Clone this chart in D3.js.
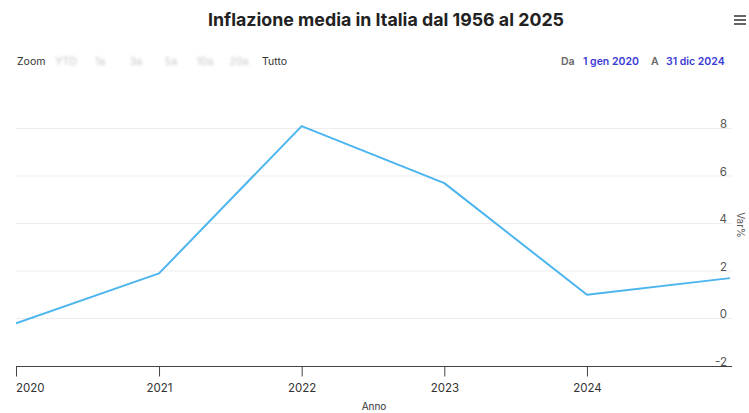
<!DOCTYPE html>
<html><head><meta charset="utf-8">
<script src="https://cdn.jsdelivr.net/npm/d3@7"></script>
<style>
body{margin:0;background:#fff;}
text{font-family:Inter,"Noto Sans",sans-serif;}
</style></head>
<body><svg id="c" width="749" height="413"></svg>
<script>
const years = ["2020-01-01","2021-01-01","2022-01-01","2023-01-01","2024-01-01","2025-01-01"];
const values = [-0.2, 1.9, 8.1, 5.7, 1.0, 1.7];
const yTicks = [-2, 0, 2, 4, 6, 8];
const xTickLabels = ["2020","2021","2022","2023","2024"];
const zoomButtons = ["YTD","1a","3a","5a","10a","20a"];
const title = "Inflazione media in Italia dal 1956 al 2025";

const svg = d3.select("#c");
const parse = d3.timeParse("%Y-%m-%d");
const data = years.map((d,i)=>({date:parse(d), v:values[i]}));

const x = d3.scaleTime().domain([parse("2020-01-01"), parse("2025-01-01")]).range([16, 730]);
const y = d3.scaleLinear().domain([-2, 8]).range([366, 128.5]);

const defs = svg.append("defs");
defs.append("filter").attr("id","blur").append("feGaussianBlur").attr("stdDeviation",1.6);
defs.append("clipPath").attr("id","clip").append("rect").attr("x",16).attr("y",90).attr("width",716).attr("height",280);

// title
svg.append("text").attr("x",386).attr("y",26).attr("text-anchor","middle")
  .attr("font-size",17.8).attr("font-weight",700).attr("fill","#222").text(title);
// menu icon
[0,4,8].forEach(o=>svg.append("rect").attr("x",734).attr("y",15+o).attr("width",12).attr("height",2).attr("fill","#666"));

// zoom row
const fs = 10.5;
svg.append("text").attr("x",17).attr("y",65).attr("font-size",fs).attr("fill","#333").text("Zoom");
const bx = [66, 100, 136, 171, 205, 239];
zoomButtons.forEach((b,i)=>svg.append("text").attr("x",bx[i]).attr("y",65).attr("text-anchor","middle")
  .attr("font-size",fs).attr("fill","#c4c4c4").attr("filter","url(#blur)").text(b));
svg.append("text").attr("x",262).attr("y",65).attr("font-size",fs).attr("fill","#333").text("Tutto");

svg.append("text").attr("x",561).attr("y",65).attr("font-size",fs).attr("font-weight",600).attr("fill","#666").text("Da");
svg.append("text").attr("x",583).attr("y",65).attr("font-size",fs).attr("font-weight",600).attr("fill","#3b3bd4").text("1 gen 2020");
svg.append("text").attr("x",651).attr("y",65).attr("font-size",fs).attr("font-weight",600).attr("fill","#666").text("A");
svg.append("text").attr("x",666).attr("y",65).attr("font-size",fs).attr("font-weight",600).attr("fill","#3b3bd4").text("31 dic 2024");

// grid
svg.append("g").selectAll("line").data(yTicks.filter(t=>t>-2)).join("line")
  .attr("x1",16).attr("x2",732).attr("y1",d=>y(d)).attr("y2",d=>y(d))
  .attr("stroke","#ededed").attr("stroke-width",1);

// y labels (right)
svg.append("g").selectAll("text").data(yTicks).join("text")
  .attr("x",727).attr("y",d=>y(d)-0.5).attr("text-anchor","end")
  .attr("font-size",11.5).attr("fill","#555").text(d=>d);
svg.append("text").attr("transform","translate(737,225) rotate(90)").attr("text-anchor","middle")
  .attr("font-size",10).attr("fill","#555").text("Var%");

// x axis
const xa = svg.append("g").attr("transform","translate(0,366.5)")
  .call(d3.axisBottom(x).ticks(d3.timeYear.every(1)).tickSize(10).tickFormat(d3.timeFormat("%Y")));
xa.select(".domain").attr("stroke","#444").attr("d","M16,0H732");
xa.selectAll(".tick line").attr("stroke","#444");
xa.selectAll(".tick").filter(d=>d.getFullYear()>2024).remove();
xa.selectAll(".tick text").attr("font-size",11.5).attr("fill","#333").attr("font-family","Inter,'Noto Sans',sans-serif").attr("dy","1.1em");
xa.selectAll(".tick text").filter(d=>d.getFullYear()===2020).attr("text-anchor","start").attr("x",-0.5);
svg.append("text").attr("x",374).attr("y",410).attr("text-anchor","middle").attr("font-size",10).attr("fill","#333").text("Anno");

// line
svg.append("path").datum(data).attr("clip-path","url(#clip)")
  .attr("d", d3.line().x(d=>x(d.date)).y(d=>y(d.v)))
  .attr("fill","none").attr("stroke","#4cb5ee").attr("stroke-width",2).attr("stroke-linejoin","round");
</script></body></html>
